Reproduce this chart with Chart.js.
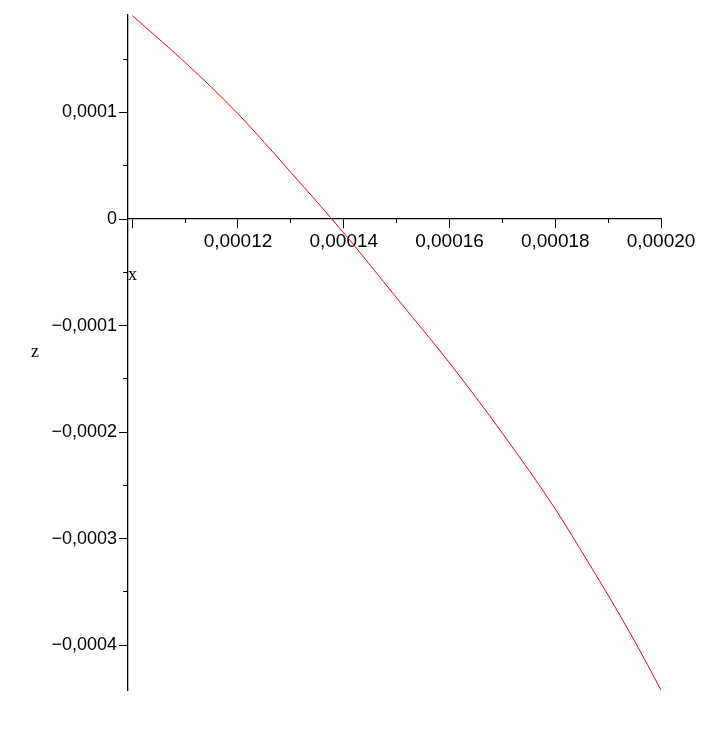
<!DOCTYPE html>
<html>
<head>
<meta charset="utf-8">
<script src="https://cdn.jsdelivr.net/npm/chart.js@4.4.1/dist/chart.umd.min.js"></script>
<style>
  html, body { margin: 0; padding: 0; background: #ffffff; }
  #wrap { width: 719px; height: 733px; position: relative; }
</style>
</head>
<body>
<div id="wrap"><canvas id="c"></canvas></div>
<script>
// ---- data ----
const xValues = [0.00010, 0.00011, 0.00012, 0.00013, 0.00014, 0.00015, 0.00016, 0.00017, 0.00018, 0.000185, 0.00019, 0.000195, 0.00020];
const zValues = [0.000191, 0.000147, 0.0000988, 0.0000438, -0.000013, -0.000074, -0.000135, -0.000201, -0.000272, -0.000312, -0.000353, -0.000396, -0.000442];

const xMajorTicks = [0.00010, 0.00012, 0.00014, 0.00016, 0.00018, 0.00020];
const xMajorLabels = ['', '0,00012', '0,00014', '0,00016', '0,00018', '0,00020'];
const xMinorTicks = [0.00011, 0.00013, 0.00015, 0.00017, 0.00019];

const yMajorTicks = [0.0001, 0, -0.0001, -0.0002, -0.0003, -0.0004];
const yMajorLabels = ['0,0001', '0', '\u22120,0001', '\u22120,0002', '\u22120,0003', '\u22120,0004'];
const yMinorTicks = [0.00015, 0.00005, -0.00005, -0.00015, -0.00025, -0.00035];

const xRange = [0.0000992, 0.00020];
const yRange = [-0.000442, 0.0001915];

const xTitle = 'x';
const yTitle = 'z';

const points = xValues.map((x, i) => ({ x: x, y: zValues[i] }));

function setTicks(list) {
  return function (scale) { scale.ticks = list.map(v => ({ value: v })); };
}
function labelFrom(ticks, labels) {
  return function (value) {
    const i = ticks.findIndex(t => Math.abs(t - value) < 1e-12);
    return i >= 0 ? labels[i] : '';
  };
}

const zTitlePlugin = {
  id: 'zTitle',
  afterDraw(chart) {
    const ctx = chart.ctx;
    const area = chart.chartArea;
    ctx.save();
    ctx.font = '18px "Liberation Serif"';
    ctx.fillStyle = '#000';
    ctx.textAlign = 'center';
    ctx.textBaseline = 'middle';
    ctx.fillText(yTitle, 35, (area.top + area.bottom) / 2);
    ctx.restore();
  }
};

new Chart(document.getElementById('c'), {
  type: 'scatter',
  data: {
    datasets: [{
      data: points,
      showLine: true,
      borderColor: '#ff0000',
      borderWidth: 1,
      pointRadius: 0,
      pointHoverRadius: 0,
      cubicInterpolationMode: 'monotone',
      fill: false
    }]
  },
  plugins: [zTitlePlugin],
  options: {
    responsive: true,
    maintainAspectRatio: false,
    animation: false,
    events: [],
    layout: { padding: { left: 0, right: 58, top: 15, bottom: 43 } },
    plugins: { legend: { display: false }, tooltip: { enabled: false } },
    scales: {
      x: {
        type: 'linear',
        position: { y: 0 },
        min: xRange[0],
        max: xRange[1],
        afterBuildTicks: setTicks(xMajorTicks),
        grid: { drawOnChartArea: false, drawTicks: true, tickLength: 9, color: '#000', tickColor: '#000', tickWidth: 1 },
        border: { display: true, color: '#000', width: 1.3 },
        ticks: {
          autoSkip: false, maxRotation: 0, padding: 2, color: '#000',
          font: { family: '"Liberation Sans", Arial, sans-serif', size: 19 },
          callback: labelFrom(xMajorTicks, xMajorLabels)
        },
        title: {
          display: true, text: xTitle, align: 'start', color: '#000',
          font: { family: '"Liberation Serif", serif', size: 18 },
          padding: { top: 10, bottom: 0 }
        }
      },
      xMinor: {
        type: 'linear',
        axis: 'x',
        position: { y: 0 },
        min: xRange[0],
        max: xRange[1],
        afterBuildTicks: setTicks(xMinorTicks),
        grid: { drawOnChartArea: false, drawTicks: true, tickLength: 4, tickColor: '#000', tickWidth: 1 },
        border: { display: false },
        ticks: { display: false }
      },
      y: {
        type: 'linear',
        position: 'left',
        min: yRange[0],
        max: yRange[1],
        afterBuildTicks: setTicks(yMajorTicks),
        afterFit: function (scale) { scale.width = 128; },
        grid: { drawOnChartArea: false, drawTicks: true, tickLength: 9, tickColor: '#000', tickWidth: 1 },
        border: { display: true, color: '#000', width: 1.3 },
        ticks: {
          autoSkip: false, padding: 2, color: '#000',
          font: { family: '"Liberation Sans", Arial, sans-serif', size: 18 },
          callback: labelFrom(yMajorTicks, yMajorLabels)
        }
      },
      yMinor: {
        type: 'linear',
        axis: 'y',
        position: { x: xRange[0] },
        min: yRange[0],
        max: yRange[1],
        afterBuildTicks: setTicks(yMinorTicks),
        grid: { drawOnChartArea: false, drawTicks: true, tickLength: 5, tickColor: '#000', tickWidth: 1 },
        border: { display: false },
        ticks: { display: false }
      }
    }
  }
});
</script>
</body>
</html>
